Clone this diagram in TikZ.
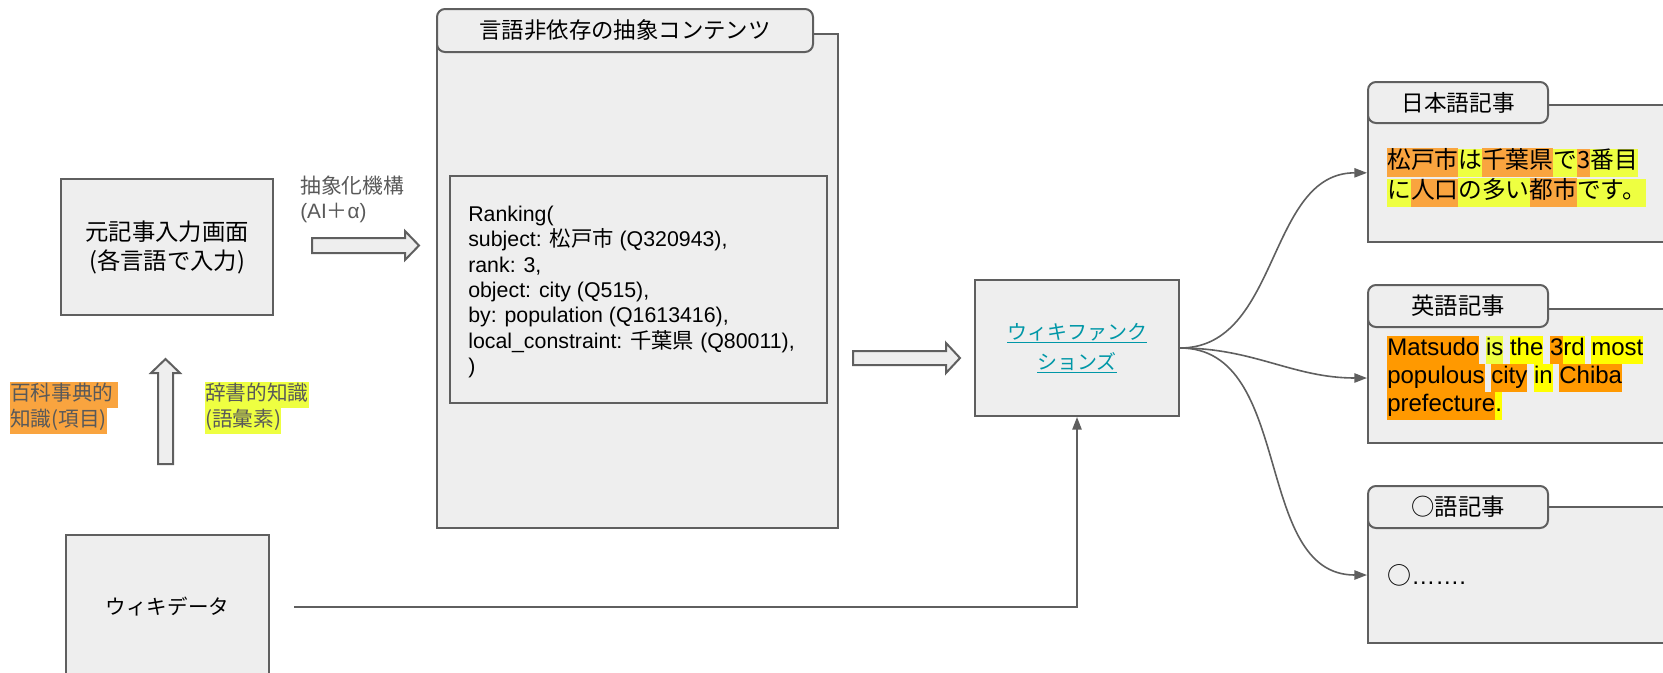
\documentclass[tikz,border=0pt]{standalone}
\usepackage{fontspec}
\setmainfont{Liberation Sans}
\newfontfamily\jp{Noto Sans CJK JP}
\usepackage{xcolor}
\usetikzlibrary{arrows.meta, positioning}

\definecolor{linegray}{HTML}{5F5F5F}
\definecolor{boxgray}{HTML}{EEEEEE}
\definecolor{textgray}{HTML}{595959}
\definecolor{hlorange}{HTML}{F9A43F}
\definecolor{hlorangeB}{HTML}{FF9900}
\definecolor{hlyellow}{HTML}{EEFF41}
\definecolor{hlyellowB}{HTML}{FFFF00}
\definecolor{wfteal}{HTML}{0097A7}

\tikzstyle{box} = [draw = linegray, fill = boxgray, line width = 1.5pt, inner sep = 0pt]
\tikzstyle{tab} = [box, rounded corners = 6pt]
\tikzstyle{fat} = [draw = linegray, fill = boxgray, line width = 1.5pt, line join = miter]
\tikzstyle{flow} = [draw = linegray, line width = 1.2pt, ->]

\setlength{\fboxsep}{0pt}
\newcommand{\hlbox}[2]{\colorbox{#1}{\strut #2}}

\begin{document}
\begin{tikzpicture}[x=0.75pt,y=-0.75pt,>={Triangle[length=9.5pt,width=7pt]}]

\useasboundingbox (0,0) rectangle (1663,672);
\clip (0,0) rectangle (1663,672);

% Source side
\node[box, minimum width=159pt, minimum height=102pt, align=center, font=\fontsize{17.5}{21.75}\jp] (src) at (167,247) {元記事入力画面\\(各言語で入力)};
\node[box, minimum width=152.25pt, minimum height=108pt, font=\fontsize{15.4}{19}\jp] (wd) at (167.5,607) {ウィキデータ};

\node[anchor=west, inner sep=0pt, align=left, text=textgray, font=\fontsize{15.6}{18.75}\jp] (absmech) at (300,199.5) {抽象化機構\\{\fontspec{Liberation Sans}(AI}＋{\fontspec{Liberation Sans}α)}};
\node[anchor=north west, inner sep=0pt, align=left, text=textgray, font=\fontsize{15.5}{19.5}\jp] (encyc) at (10,382) {\hlbox{hlorange}{百科事典的\kern3pt}\\\hlbox{hlorange}{知識(項目)}};
\node[anchor=north west, inner sep=0pt, align=left, text=textgray, font=\fontsize{15.5}{19.5}\jp] (dict) at (205,382) {\hlbox{hlyellow}{辞書的知識}\\\hlbox{hlyellow}{(語彙素)}};

% Fat arrows
\draw[fat] (312,238) -- (405,238) -- (405,231) -- (419,245.5) -- (405,260) -- (405,253) -- (312,253) -- cycle;
\draw[fat] (158,464) -- (158,373) -- (151,373) -- (165.5,359) -- (180,373) -- (173,373) -- (173,464) -- cycle;
\draw[fat] (853,351) -- (946,351) -- (946,343) -- (960,358) -- (946,373) -- (946,365) -- (853,365) -- cycle;

% Abstract content
\node[box, minimum width=300.75pt, minimum height=370.5pt] (abs) at (637.5,281) {};
\node[tab, minimum width=282pt, minimum height=32.25pt, font=\fontsize{16.8}{20}\jp] (abstab) at (625,30.5) {言語非依存の抽象コンテンツ};
\node[box, minimum width=282.75pt, minimum height=170.25pt] (rank) at (638.5,289.5) {};
\node[anchor=west, inner sep=0pt, align=left, font=\fontsize{16}{19.1}\selectfont] (ranktxt) at (468,292) {Ranking(\\subject: {\jp 松戸市} (Q320943),\\rank: 3,\\object: city (Q515),\\by: population (Q1613416),\\local\_constraint: {\jp 千葉県} (Q80011),\\)};

% Wikifunctions
\node[box, minimum width=153pt, minimum height=102pt, align=center, text=wfteal, font=\fontsize{15}{22.5}\jp] (wf) at (1077,348) {\underline{ウィキファンク}\\\underline{ションズ}};

% Articles
\node[box, minimum width=249pt, minimum height=102.75pt] (ja) at (1534,173.5) {};
\node[tab, minimum width=135pt, minimum height=30.75pt, font=\fontsize{17}{20}\jp] (jatab) at (1458,102.5) {日本語記事};
\node[anchor=north west, inner sep=0pt, align=left, font=\fontsize{17.8}{21}\jp] (jatxt) at (1387,148) {\hlbox{hlorange}{松戸市}\hlbox{hlyellow}{は}\hlbox{hlorange}{千葉県}\hlbox{hlyellow}{で}\hlbox{hlorange}{3}\hlbox{hlyellow}{番目}\\\hlbox{hlyellow}{に}\hlbox{hlorange}{人口}\hlbox{hlyellow}{の多い}\hlbox{hlorange}{都市}\hlbox{hlyellow}{です。}};

\node[box, minimum width=249pt, minimum height=100.5pt] (en) at (1534,376) {};
\node[tab, minimum width=135pt, minimum height=31.5pt, font=\fontsize{17.5}{20}\jp] (entab) at (1458,306) {英語記事};
\node[anchor=north west, inner sep=0pt, align=left, font=\fontsize{18}{21}\selectfont] (entxt) at (1387,336) {\hlbox{hlorangeB}{Matsudo} \hlbox{hlyellow}{is} \hlbox{hlyellowB}{the} \hlbox{hlorangeB}{3}\hlbox{hlyellowB}{rd} \hlbox{hlyellowB}{most}\\\hlbox{hlorangeB}{populous} \hlbox{hlorangeB}{city} \hlbox{hlyellowB}{in} \hlbox{hlorangeB}{Chiba}\\\hlbox{hlorangeB}{prefecture}\hlbox{hlyellowB}{.}};

\node[box, minimum width=249pt, minimum height=102pt] (ot) at (1534,575) {};
\node[tab, minimum width=135pt, minimum height=31.5pt, font=\fontsize{17.5}{20}\jp] (ottab) at (1458,507) {○語記事};
\node[anchor=west, inner sep=0pt, font=\fontsize{18}{21}\selectfont] (ottxt) at (1387,575) {{\jp ○}…….};

% Connectors
\draw[flow] ([xshift=18pt]wd.east) -| (wf.south);
\draw[flow] (wf.east) to[out=0, in=180] ([yshift=0.5pt]ja.west);
\draw[flow] (wf.east) to[out=0, in=180] ([yshift=-1.5pt]en.west);
\draw[flow] (wf.east) to[out=0, in=180] (ot.west);

\end{tikzpicture}
\end{document}
